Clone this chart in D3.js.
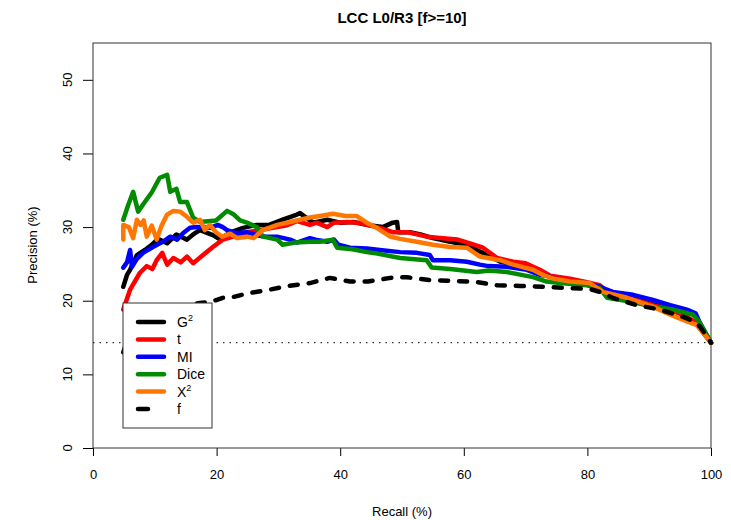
<!DOCTYPE html>
<html>
<head>
<meta charset="utf-8">
<script src="https://cdn.jsdelivr.net/npm/d3@7"></script>
<style>
  body { margin: 0; background: #fff; }
  svg { font-family: "Liberation Sans", Arial, sans-serif; }
</style>
</head>
<body>
<svg id="chart" width="731" height="520"></svg>
<script>
// recall (%) / precision (%) pairs
var g2Pts = [[4.9,21.9],[5.5,23.5],[6.0,24.2],[7.1,26.2],[8.4,26.9],[9.5,27.6],[10.5,28.4],[12.0,27.8],[13.5,29.0],[15.2,28.3],[16.2,29.0],[17.3,29.6],[19.4,28.9],[20.6,28.3],[22.0,29.2],[24.3,29.9],[26.5,30.3],[28.5,30.3],[30.7,31.0],[33.0,31.7],[33.5,31.9],[35.6,30.6],[37.9,31.0],[40.0,30.6],[42.1,30.7],[44.3,30.3],[46.9,30.0],[48.5,30.6],[49.2,30.7],[49.4,29.3],[51.3,29.3],[53.0,29.0],[55.0,28.5],[57.8,28.0],[60.5,27.6],[62.1,26.9],[63.8,26.2],[65.9,25.3],[68.0,25.0],[71.2,24.5],[74.4,23.1],[77.0,22.7],[79.9,22.4],[83.2,21.1],[85.5,20.6],[88.0,20.1],[91.5,19.3],[95.0,18.3],[97.5,17.0],[100,14.3]];
var tPts = [[4.9,18.8],[6.0,21.5],[7.6,23.8],[8.7,24.7],[9.6,24.3],[10.3,25.5],[11.2,26.5],[12.0,24.9],[13.0,25.8],[14.2,25.2],[15.2,26.0],[16.2,25.1],[17.8,26.2],[19.4,27.3],[21.0,28.3],[22.7,28.7],[24.9,29.3],[27.0,29.6],[29.1,29.9],[31.2,30.2],[33.0,30.8],[35.1,30.3],[36.2,30.6],[37.9,30.0],[39.0,30.6],[41.1,30.7],[43.0,30.6],[44.3,30.3],[46.4,29.9],[48.5,29.3],[51.0,29.3],[54.0,28.7],[56.6,28.5],[59.0,28.3],[61.0,27.8],[63.1,27.2],[65.4,25.8],[68.0,25.3],[70.0,25.1],[72.3,24.2],[74.0,23.4],[77.2,23.0],[79.9,22.5],[82.0,22.1],[83.2,21.2],[86.4,20.5],[90.6,19.4],[93.4,18.8],[96.1,17.8],[97.8,16.8],[100,14.3]];
var miPts = [[4.9,24.5],[5.5,25.2],[6.0,26.9],[6.3,24.6],[7.1,25.7],[8.1,26.5],[9.7,27.3],[11.3,28.0],[12.5,28.7],[13.6,28.3],[14.6,29.2],[15.7,29.9],[16.8,30.0],[18.9,29.9],[20.2,30.3],[21.0,30.0],[21.7,29.6],[23.0,29.2],[24.9,29.3],[26.5,28.9],[28.0,28.7],[29.8,28.7],[31.9,28.3],[33.0,27.9],[35.1,28.5],[36.0,28.3],[37.9,28.0],[39.0,28.3],[39.7,27.6],[41.6,27.2],[44.3,27.1],[46.4,26.9],[49.7,26.6],[52.4,26.5],[54.5,26.2],[55.0,25.5],[57.8,25.5],[60.5,25.3],[62.6,24.9],[64.0,24.7],[67.0,24.6],[70.2,24.2],[72.3,23.5],[73.5,23.4],[75.6,22.6],[79.9,22.4],[82.0,21.9],[84.1,21.2],[87.4,20.8],[90.6,20.1],[93.4,19.4],[96.1,18.8],[97.5,18.3],[98.2,17.0],[100,14.3]];
var dicePts = [[4.9,31.0],[5.7,33.0],[6.5,34.8],[7.3,32.1],[8.3,33.3],[9.5,34.7],[10.8,36.7],[12.0,37.1],[12.5,34.8],[13.5,35.2],[14.1,33.4],[15.2,33.4],[16.2,31.3],[17.3,30.7],[19.9,30.9],[21.7,32.2],[22.8,31.7],[23.8,30.9],[24.9,30.6],[26.5,30.0],[27.5,28.7],[29.8,28.3],[30.7,27.6],[32.7,27.9],[35.1,28.0],[36.7,28.0],[38.8,28.3],[39.5,27.2],[42.0,27.0],[44.3,26.6],[46.0,26.4],[49.7,25.8],[54.0,25.5],[54.8,24.5],[57.8,24.3],[62.1,23.9],[64.0,24.1],[67.0,23.9],[71.2,23.2],[73.4,22.6],[75.6,22.4],[79.9,22.1],[82.0,21.7],[83.2,20.4],[86.9,19.9],[90.6,19.2],[93.9,18.8],[97.1,18.1],[98.2,17.0],[100,14.3]];
var x2Pts = [[4.9,28.3],[4.9,30.3],[5.8,30.0],[6.5,28.5],[7.1,31.0],[7.7,30.3],[8.2,30.9],[8.7,28.7],[9.5,30.2],[10.3,28.3],[11.1,30.2],[12.0,31.7],[13.0,32.2],[14.1,32.1],[15.2,31.4],[16.2,30.6],[17.3,31.0],[18.1,29.6],[18.9,30.3],[19.9,29.3],[20.9,28.7],[22.2,29.1],[23.3,28.5],[24.9,28.7],[26.0,28.5],[27.5,29.6],[29.8,30.3],[31.9,30.7],[35.1,31.3],[36.7,31.5],[38.8,31.8],[40.9,31.5],[42.7,31.5],[44.3,30.6],[45.9,29.9],[48.1,28.7],[49.7,28.4],[52.4,28.0],[55.0,27.6],[57.8,27.3],[60.5,27.2],[62.6,26.0],[65.9,25.5],[68.0,24.9],[71.2,24.2],[72.8,23.5],[74.5,23.0],[77.2,22.6],[80.4,22.4],[82.5,21.2],[86.4,20.4],[90.6,19.2],[93.4,18.1],[95.5,17.4],[97.7,16.7],[100,14.3]];
var fPts = [[4.9,13.0],[5.5,14.5],[7.0,16.5],[9.0,17.8],[11.5,18.7],[14.5,19.3],[17.3,19.7],[18.9,19.8],[21.0,20.4],[22.2,20.4],[25.0,21.0],[28.6,21.5],[31.5,22.0],[35.1,22.4],[38.3,23.1],[41.6,22.6],[44.5,22.6],[48.1,23.1],[50.8,23.2],[52.5,23.0],[54.5,22.8],[57.8,22.7],[61.5,22.6],[65.4,22.1],[69.1,22.0],[72.8,21.9],[77.2,21.7],[80.4,21.6],[82.0,21.2],[84.1,20.4],[88.0,19.4],[91.7,18.8],[95.5,17.8],[97.0,17.3],[98.2,16.5],[100,14.3]];

var seriesNames = ["G2", "t", "MI", "Dice", "X2", "f"];
var seriesColors = ["#000000", "#FF0000", "#0000FF", "#008B00", "#FF7700", "#000000"];
var baseline = 14.3;
var xTicks = [0, 20, 40, 60, 80, 100];
var yTicks = [0, 10, 20, 30, 40, 50];

var svg = d3.select("#chart");
var x = d3.scaleLinear().domain([0, 100]).range([93, 711]);
var y = d3.scaleLinear().domain([0, 55]).range([448, 43]);

// title and axis labels
svg.append("text")
  .attr("x", 402).attr("y", 23)
  .attr("text-anchor", "middle")
  .style("font-size", "15px").style("font-weight", "bold")
  .text("LCC L0/R3 [f>=10]");

svg.append("text")
  .attr("x", 402).attr("y", 516)
  .attr("text-anchor", "middle")
  .style("font-size", "13px")
  .text("Recall (%)");

svg.append("text")
  .attr("transform", "translate(37,245) rotate(-90)")
  .attr("text-anchor", "middle")
  .style("font-size", "13px")
  .text("Precision (%)");

// axes
var xAxis = d3.axisBottom(x).tickValues(xTicks).tickSize(8).tickPadding(14);
var gx = svg.append("g").attr("transform", "translate(0,448)").call(xAxis);
gx.select(".domain").remove();
gx.selectAll("text").style("font-size", "13px").style("font-family", "Liberation Sans, Arial, sans-serif");

var yAxis = d3.axisLeft(y).tickValues(yTicks).tickSize(10).tickFormat("");
var gy = svg.append("g").attr("transform", "translate(93,0)").call(yAxis);
gy.select(".domain").remove();

svg.append("g").selectAll("text")
  .data(yTicks)
  .enter().append("text")
  .attr("transform", function(d) { return "translate(72," + y(d) + ") rotate(-90)"; })
  .attr("text-anchor", "middle")
  .style("font-size", "13px")
  .text(function(d) { return d; });

svg.append("rect")
  .attr("x", 93).attr("y", 43)
  .attr("width", 618).attr("height", 405)
  .attr("fill", "none").attr("stroke", "#333").attr("stroke-width", 1);

// dotted baseline
svg.append("line")
  .attr("x1", x(0)).attr("x2", x(100))
  .attr("y1", y(baseline)).attr("y2", y(baseline))
  .attr("stroke", "#000").attr("stroke-width", 1)
  .attr("stroke-dasharray", "1.5,5");

var line = d3.line().x(function(d) { return x(d[0]); }).y(function(d) { return y(d[1]); });
var allPts = [g2Pts, tPts, miPts, dicePts, x2Pts, fPts];

svg.append("g").selectAll("path")
  .data(allPts)
  .enter().append("path")
  .attr("d", line)
  .attr("fill", "none")
  .attr("stroke", function(d, i) { return seriesColors[i]; })
  .attr("stroke-width", 4.5)
  .attr("stroke-linecap", "round")
  .attr("stroke-linejoin", "round")
  .attr("stroke-dasharray", function(d, i) { return seriesNames[i] == "f" ? "8,11" : null; });

// legend
var key = svg.append("g").attr("class", "legend");
key.append("rect")
  .attr("x", 123).attr("y", 303)
  .attr("width", 89).attr("height", 125)
  .attr("fill", "#fff").attr("stroke", "#333").attr("stroke-width", 1);

var rows = key.selectAll("g.row")
  .data(seriesNames)
  .enter().append("g")
  .attr("class", "row")
  .attr("transform", function(d, i) { return "translate(0," + (322 + i * 17.4) + ")"; });

rows.append("line")
  .attr("x1", 138)
  .attr("x2", function(d) { return d == "f" ? 148 : 164; })
  .attr("y1", 0).attr("y2", 0)
  .attr("stroke", function(d, i) { return seriesColors[i]; })
  .attr("stroke-width", 4.5)
  .attr("stroke-linecap", "round");

var lbl = rows.append("text")
  .attr("x", 177).attr("y", 5)
  .style("font-size", "14px");
lbl.each(function(d) {
  var t = d3.select(this);
  if (d == "G2" || d == "X2") {
    t.append("tspan").text(d.charAt(0));
    t.append("tspan").attr("dy", -6).style("font-size", "9px").text("2");
  } else {
    t.text(d);
  }
});
</script>
</body>
</html>
